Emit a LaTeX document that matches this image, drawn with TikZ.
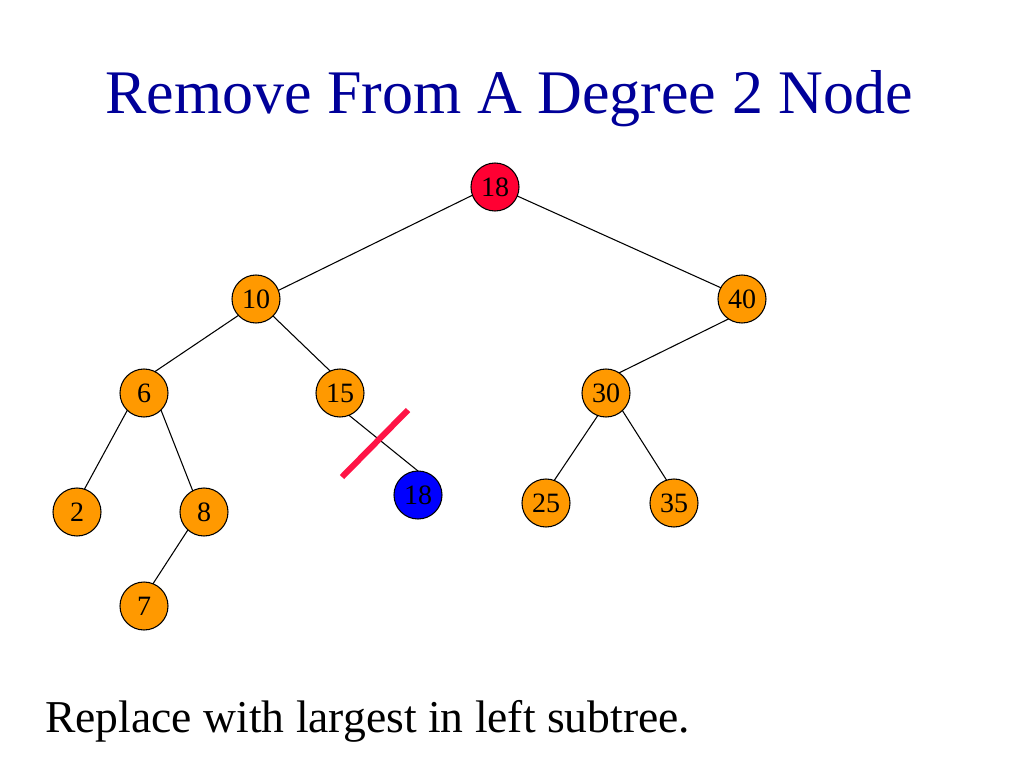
\documentclass[tikz,border=0pt]{standalone}
\usepackage{fontspec}
\setmainfont{Liberation Serif}
\definecolor{titleblue}{RGB}{0,0,153}
\definecolor{nodeorange}{RGB}{255,153,0}
\definecolor{rootred}{RGB}{255,0,51}
\definecolor{slashred}{RGB}{255,20,70}
\begin{document}
\begin{tikzpicture}[x=0.75pt,y=-0.75pt,
  tn/.style={circle,draw=black,line width=0.8pt,fill=nodeorange,minimum size=36pt,inner sep=0pt,outer sep=0pt,font=\fontsize{21}{21}\selectfont},
  edge/.style={draw=black,line width=0.8pt}]
\useasboundingbox (0,0) rectangle (1024,768);
\fill[white] (0,0) rectangle (1024,768);
\node[anchor=base west,text=titleblue,inner sep=0pt,font=\fontsize{46.5}{46.5}\selectfont] (title) at (105,113) {Remove From A Degree 2 Node};
\node[anchor=base west,inner sep=0pt,font=\fontsize{34.2}{34.2}\selectfont] (caption) at (45,732) {Replace with largest in left subtree.};

\node[tn,fill=rootred] (r) at (495,187) {18};
\node[tn] (n10) at (256,299) {10};
\node[tn] (n40) at (742,299) {40};
\node[tn] (n6) at (144,393) {6};
\node[tn] (n15) at (340,393) {15};
\node[tn] (n30) at (606,393) {30};
\node[tn] (n2) at (77,512) {2};
\node[tn] (n8) at (204,512) {8};
\node[tn] (n7) at (144,606) {7};
\node[tn,fill=blue] (b18) at (418,495) {18};
\node[tn] (n25) at (546,503) {25};
\node[tn] (n35) at (674,503) {35};

\draw[edge] (r.200) -- (n10.21);
\draw[edge] (r.338) -- (n40.152);
\draw[edge] (n10.223) -- (n6.63);
\draw[edge] (n10.315) -- (n15.114);
\draw[edge] (n40.236) -- (n30.57);
\draw[edge] (n6.226) -- (n2.72);
\draw[edge] (n6.315) -- (n8.118);
\draw[edge] (n8.228) -- (n7.68);
\draw[edge] (n30.250) -- (n25.70);
\draw[edge] (n30.313) -- (n35.108);
\draw[edge] (n15.292) -- (b18.90);

\coordinate (s1) at (342,477);
\coordinate (s2) at (408,410);
\draw[slashred,line width=4.5pt] (s1) -- (s2);
\end{tikzpicture}
\end{document}
